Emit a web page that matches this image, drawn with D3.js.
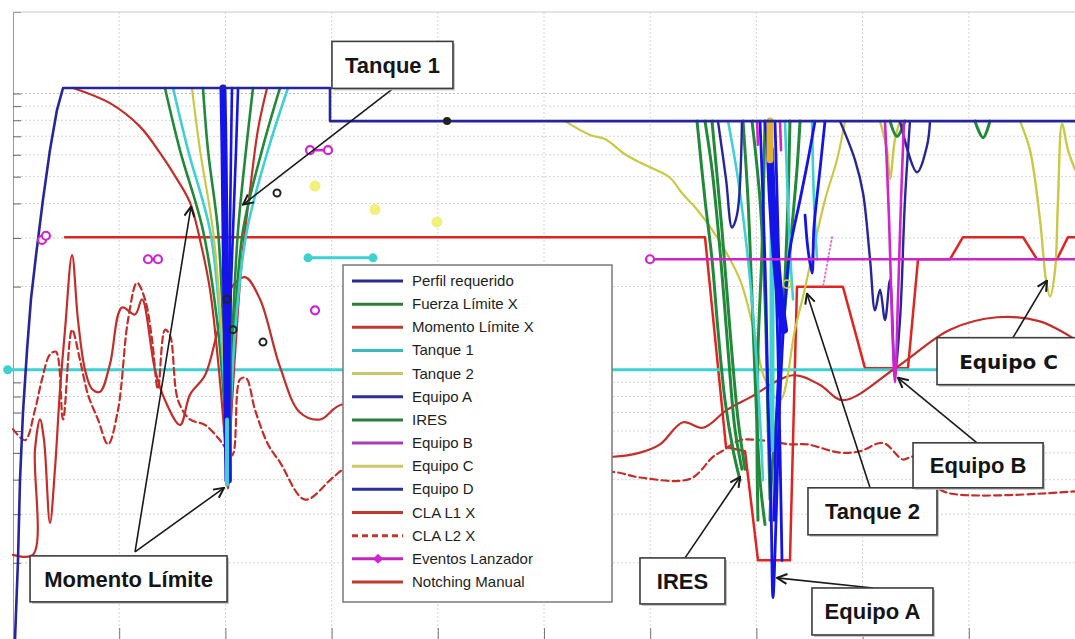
<!DOCTYPE html>
<html>
<head>
<meta charset="utf-8">
<script src="https://cdn.jsdelivr.net/npm/d3@7"></script>
<style>
body { margin: 0; background: #fff; }
svg { display: block; font-family: "Liberation Sans", Arial, sans-serif; }
</style>
</head>
<body>
<svg id="chart" width="1075" height="639"></svg>
<script>
// ---- DATA (x in Hz, y in dB) ----
const freqTicks = [10, 20, 30, 40, 50, 60, 70, 80, 90];
const decadeSteps = [1, 2, 3, 4, 5, 6, 7, 8, 9];
const decadeBases = [-20, 0, 20];

const perfilRequerido = [[0.1,-20],[0.19,-19.5],[0.47,-13.8],[0.66,-8.0],[0.94,-3.1],[1.32,1.4],[1.69,5.1],[2.17,8.3],[2.82,12.3],[3.48,15.9],[4.14,18.8],[4.71,20.4],[29.85,20.4],[29.85,18.0],[100,18.0]];

const fanLevels = [20.4, 15.9, 10.1, 3.6, -2.2, -8.0];

const momentoLimite = [[5.65,20.4],[9.13,19.3],[11.96,17.6],[13.84,15.7],[15.44,13.8],[16.67,12.1],[17.61,9.4],[18.55,5.8],[19.3,0.7],[19.87,-4.3],[20.24,-8.6],[20.53,-3.6],[21.0,2.2],[21.56,8.0],[22.32,13.0],[23.07,17.4],[23.92,20.4]];

const fuerzaFanX = [
  [14.31,15.72,17.89,19.21,19.87,20.24],
  [17.89,18.36,19.30,19.77,20.06,20.24],
  [22.60,21.94,21.19,20.72,20.43,20.24],
  [25.14,23.45,21.66,20.90,20.43,20.24]
];
const tanque1FanX = [
  [15.07,16.48,18.55,19.49,19.96,20.24],
  [25.89,24.01,22.03,21.00,20.53,20.24]
];
const equipoCFanX = [[16.85,17.61,18.83,19.58,20.06,20.24]];
const equipoAFanX = [
  [20.62,20.53,20.43,20.34,20.24,20.24],
  [21.19,21.00,20.72,20.43,20.34,20.24]
];
const equipoAFanCore = [19.77,19.87,19.96,20.06,20.15,20.24];
const fuerzaCore = [[20.34,6.5],[20.34,-8.0]];
const tanque1Core = [[20.15,-3.6],[20.15,-8.3]];

const tanque1Level = [[-0.5,0],[100,0]];
const tanque1Short = [[27.78,8.1],[33.9,8.1]];
const tanque1Dense = [
  [[67.33,18],[68.27,13.8],[69.21,8.0],[69.87,2.2],[70.34,-3.6],[70.62,-8.0]],
  [[75.24,18],[75.42,12.3],[75.71,8.0]],
  [[72.69,18],[73.16,8.7],[73.45,5.1]]
];
const tanque1DenseCore = [[71.47,12.3],[71.47,-5.8]];

const iresDense = [
  [[64.41,18.0],[65.16,12.3],[65.82,8.0],[66.38,2.9],[67.04,-2.2],[67.80,-5.8],[68.46,-8.0]],
  [[68.74,18.0],[69.21,12.3],[69.59,5.1],[69.96,-2.2],[70.34,-8.0],[70.81,-11.2]],
  [[65.16,18.0],[65.82,14.5],[66.57,8.7],[67.33,1.4],[67.98,-4.3],[68.64,-7.2]],
  [[65.82,18],[66.76,10.1],[67.51,2.9],[68.27,-3.6],[68.93,-7.2]],
  [[69.59,18],[70.34,12.3],[70.81,5.1],[71.09,-3.6],[71.28,-9.4]],
  [[73.16,18.0],[72.98,12.3],[72.60,5.1],[72.03,-2.2],[71.47,-7.2],[71.28,-10.9]],
  [[74.11,18.0],[73.82,14.5],[73.16,8.7],[72.50,2.9]],
  [[70.81,18],[70.53,8.7],[70.15,1.4],[70.06,-5.8],[70.15,-10.9]],
  [[82.58,18.0],[83.24,16.9],[83.99,18.0]],
  [[90.58,18.0],[91.34,16.8],[91.99,18.0]]
];

const equipoADense = [
  [[70.34,18.0],[70.62,12.3],[70.90,5.1],[71.09,-2.2],[71.37,-9.4],[71.56,-16.5],[71.85,-10.9],[72.13,-3.6],[72.60,3.6],[73.16,8.7],[74.11,12.3],[74.86,15.2],[75.52,18.0]],
  [[70.81,18],[71.28,13.8],[71.75,8.0],[72.03,1.4],[72.22,-5.8],[72.41,-13.8]],
  [[71.75,18],[72.03,10.1],[72.22,2.9],[71.85,-4.3],[71.66,-10.9]],
  [[76.46,18],[75.99,14.5],[75.42,10.3],[75.24,7.0],[74.86,8.7],[74.58,11.2]]
];
const equipoABlob = [[71.28,15.9],[71.47,12.3],[71.85,8.0],[72.22,5.1],[72.60,2.9]];

const equipoD = [
  [[66.38,18],[67.14,13.8],[67.70,10.3],[68.17,11.2],[68.64,18]],
  [[77.87,18],[79.28,15.2],[80.04,12.8],[80.70,8.0],[81.17,4.3],[81.64,5.8],[82.11,3.6],[82.58,6.5],[83.05,-0.1],[83.52,3.6],[83.99,12.3],[84.46,18.0]],
  [[83.52,18],[85.12,14.3],[86.06,16.2],[86.35,18]]
];

const equipoB = [
  [[82.11,18],[82.49,10.9],[82.77,3.6],[83.05,-0.9],[83.33,5.1],[83.62,12.3],[83.90,18]],
  [[70.06,18],[70.15,16.3]],
  [[72.22,18],[72.32,15.9]]
];
const equipoBDotted = [[77.12,9.6],[76.27,6.0]];

const tanque2 = [[51.98,18.0],[54.33,17.0],[55.74,16.7],[57.63,15.6],[59.04,15.0],[60.45,14.5],[61.86,13.9],[63.09,12.7],[64.41,11.6],[66.29,9.6],[68.46,6.5],[69.68,3.1],[70.81,-0.7],[72.22,-2.2],[73.63,2.9],[74.39,5.3],[76.46,12.3],[77.59,15.2],[78.34,18.0]];

const equipoC = [
  [[81.64,18],[82.30,15.9],[82.58,13.8],[83.05,16.7],[83.52,18]],
  [[94.82,18],[95.76,15.9],[96.70,10.9],[97.27,6.5],[97.65,5.3],[98.12,7.2],[98.40,12.3],[98.78,17.8],[99.34,15.9],[100,14.5]]
];
const equipoCBlob = [[71.28,18],[71.28,15.2]];
const equipoCPoints = [[28.44,13.3],[34.09,11.6],[39.92,10.7]];

const claL1 = [[0,-13.4],[1.88,-13.4],[2.07,-5.8],[2.54,-3.6],[2.92,-5.1],[3.48,-11.1],[3.95,-7.2],[4.43,-1.4],[4.9,2.9],[5.56,8.3],[6.12,3.6],[6.78,0],[7.44,-1.4],[8.19,-1.6],[9.13,0.4],[10.26,4.5],[11.49,4.0],[12.15,5.1],[13.37,0],[14.31,-2.2],[15.73,-4.0],[16.67,-1.8],[18.08,-0.4],[19.3,2.9],[20.43,5.8],[21.85,6.7],[23.26,5.1],[25.14,0.2],[27.02,-3.1],[28.91,-3.6],[31.07,-2.5],[40,-4.5],[50.09,-6.3],[53.39,-6.2],[56.5,-6.3],[59.04,-6.0],[60.92,-5.4],[63.09,-3.8],[64.97,-4.2],[67.23,-2.9],[69.4,-2.0],[73.45,-0.4],[75.99,-1.1],[78.15,-2.2],[83.24,0.2],[88.23,2.9],[92.66,3.8],[96.7,3.5],[100,2.2]];

const claL2 = [[0,-4.3],[1.13,-5.1],[2.07,-2.9],[2.73,-0.7],[3.48,1.1],[4.05,1.3],[4.71,-3.6],[5.56,2.9],[6.31,0.7],[7.06,-1.8],[8.0,-3.6],[8.95,-5.4],[9.89,-2.9],[10.83,3.6],[11.68,6.3],[12.43,5.1],[13.09,2.2],[13.65,-1.4],[14.31,2.9],[14.78,2.5],[15.54,-2.2],[16.67,-3.6],[18.08,-4.0],[19.49,-5.1],[20.62,-6.2],[21.37,-0.7],[21.94,-0.6],[22.79,-2.9],[24.01,-5.4],[25.14,-6.7],[27.5,-9.4],[30.13,-7.8],[31.26,-7.2],[40,-7.5],[50.09,-7.2],[53.39,-7.7],[56.5,-7.4],[59.04,-7.8],[63.75,-7.9],[65.91,-6.3],[66.76,-5.9],[68.46,-5.1],[70.34,-5.1],[73.16,-5.4],[74.76,-5.4],[77.87,-6.0],[79.76,-5.9],[81.92,-5.3],[83.8,-6.5],[84.75,-6.3],[86.35,-8.0],[87.95,-8.9],[100,-8.8]];

const notchingManual = [[4.9,9.6],[65.16,9.6],[67.14,-5.6],[68.93,-5.9],[70.15,-13.8],[73.16,-13.8],[73.82,6.0],[78.15,6.0],[80.23,0.1],[84.27,0.1],[85.22,8.0],[88.23,8.0],[89.45,9.6],[95.1,9.6],[96.42,8.0],[98.3,8.0],[99.34,9.6],[100,9.6]];

const eventosLanzador = [
  [[2.73,9.4],[3.1,9.7]],
  [[12.71,8.0],[13.65,8.0]],
  [[27.97,15.9],[29.66,15.9]],
  [[28.44,4.3]],
  [[59.98,8.0],[100,8.0]]
];

const blackFilled = [[40.87,18.0]];
const blackOpen = [[24.86,12.8],[23.54,2.0],[20.15,5.1],[20.72,2.9]];
const greenOpen = [[72.88,6.2]];

const legendLabels = ["Perfil requerido","Fuerza Límite X","Momento Límite X","Tanque 1","Tanque 2","Equipo A","IRES","Equipo B","Equipo C","Equipo D","CLA L1 X","CLA L2 X","Eventos Lanzador","Notching Manual"];
const legendColors = ["#2b2b8f","#2e7d3c","#c0392f","#3cb9bb","#c8c86a","#2f2f9c","#2e7d3c","#a640b8","#c8c86a","#2f2f9c","#c0392f","#c0392f","#c424c4","#c0392f"];

const annotations = [
  { label: "Tanque 1", cx: 35.73, cy: 22.07, w: 121, h: 47, from: [[35.78,20.36]], to: [[21.66,11.96]] },
  { label: "Momento Límite", cx: 10.88, cy: -15.14, w: 197, h: 46, from: [[11.49,-13.19],[11.49,-13.19]], to: [[16.76,11.81],[19.87,-8.55]] },
  { label: "IRES", cx: 63.04, cy: -15.29, w: 85, h: 46, from: [[63.28,-13.62]], to: [[68.46,-7.75]] },
  { label: "Tanque 2", cx: 80.93, cy: -10.25, w: 129, h: 47, from: [[80.70,-8.55]], to: [[74.76,5.51]] },
  { label: "Equipo B", cx: 90.87, cy: -6.92, w: 130, h: 45, from: [[90.77,-5.29]], to: [[83.33,-0.58]] },
  { label: "Equipo A", cx: 80.93, cy: -17.5, w: 121, h: 47, from: [[80.98,-15.8]], to: [[71.94,-15.07]] },
  { label: "Equipo C", cx: 93.74, cy: 0.62, w: 143, h: 47, from: [[94.16,2.32]], to: [[97.36,6.45]], font: "DejaVu Sans" }
];

// ---- COLOURS ----
const navy = "#26269a", blue = "#1414e8", green = "#22893a", red = "#c42e2a",
      notchRed = "#e02420", cyan = "#3fd0d2", yellow = "#c9c946", magenta = "#d024d0";

// ---- SCALES ----
const svg = d3.select('#chart');
const x = d3.scaleLinear().domain([0, 100]).range([13, 1075]);
const y = d3.scaleLinear().domain([-20, 25.9]).range([646, 12]);
const line = d3.line().x(d => x(d[0])).y(d => y(d[1]));
const smooth = d3.line().x(d => x(d[0])).y(d => y(d[1])).curve(d3.curveCatmullRom.alpha(0.5));

//GRID
const gridDb = decadeBases.flatMap(b => decadeSteps.map(k => b + 20 * Math.log10(k))).filter(v => v < 25.9);

const grid = svg.append('g');
grid.selectAll('.hg').data(gridDb).join('line')
  .attr('x1', x(0)).attr('x2', x(100))
  .attr('y1', d => y(d)).attr('y2', d => y(d))
  .attr('stroke', d => (Math.abs(d % 20) < 0.01) ? '#bcbcbc' : '#d4d4d4')
  .attr('stroke-width', 1)
  .attr('stroke-dasharray', '2,2');
grid.selectAll('.vg').data(freqTicks).join('line')
  .attr('x1', d => x(d)).attr('x2', d => x(d))
  .attr('y1', y(25.9)).attr('y2', y(-20))
  .attr('stroke', '#d4d4d4').attr('stroke-dasharray', '2,2');

// frame + ticks
svg.append('line').attr('x1', x(0)).attr('x2', x(100)).attr('y1', y(25.9)).attr('y2', y(25.9)).attr('stroke', '#c8c8c8');
svg.append('g').attr('transform', `translate(${x(0)},0)`)
  .call(d3.axisLeft(y).tickValues(gridDb.filter(v => v <= 20.01)).tickSize(-8).tickFormat(''))
  .call(g => g.select('.domain').attr('stroke', '#999'))
  .call(g => g.selectAll('.tick line').attr('stroke', '#666'));
svg.append('g').attr('transform', `translate(0,${y(-20)})`)
  .call(d3.axisBottom(x).tickValues(freqTicks).tickSize(-18).tickFormat(''))
  .call(g => g.select('.domain').remove())
  .call(g => g.selectAll('.tick line').attr('stroke', '#777'));

// clip
svg.append('clipPath').attr('id', 'plot').append('rect')
  .attr('x', 0).attr('y', y(25.9)).attr('width', 1075).attr('height', y(-20) - y(25.9));
const plot = svg.append('g').attr('clip-path', 'url(#plot)');

const drawSeries = (segments, color, width, dash, gen) => {
  plot.append('g').selectAll('path').data(segments).join('path')
    .attr('d', gen || line)
    .attr('fill', 'none')
    .attr('stroke', color)
    .attr('stroke-width', width)
    .attr('stroke-linejoin', 'round')
    .attr('stroke-linecap', 'round')
    .attr('stroke-dasharray', dash || null);
}
const fan = (xsList) => xsList.map(xs => xs.map((v, i) => [v, fanLevels[i]]));

//DRAW LINES
drawSeries([notchingManual], notchRed, 2.5);
drawSeries([tanque1Level], cyan, 3);
drawSeries([claL2], red, 2.2, '7,4', smooth);
drawSeries([claL1], red, 2.2, null, smooth);
drawSeries([momentoLimite], red, 2.2, null, smooth);
drawSeries(fan(fuerzaFanX), green, 2.6, null, smooth);
drawSeries(fan(tanque1FanX), cyan, 2.6, null, smooth);
drawSeries(fan(equipoCFanX), yellow, 2.2, null, smooth);
drawSeries([fuerzaCore], green, 6);
drawSeries([equipoAFanCore.map((v, i) => [v, fanLevels[i]])], blue, 7, null, smooth);
drawSeries(fan(equipoAFanX), blue, 2.6, null, smooth);
drawSeries([tanque1Core], cyan, 4);
drawSeries([tanque2], yellow, 2.2, null, smooth);
drawSeries(equipoC, yellow, 2.4, null, smooth);
drawSeries(iresDense, green, 3, null, smooth);
drawSeries(tanque1Dense, cyan, 2.6, null, smooth);
drawSeries([tanque1DenseCore], cyan, 5);
drawSeries(equipoD, navy, 2.4, null, smooth);
drawSeries(equipoADense, blue, 2.8, null, smooth);
drawSeries([equipoABlob], blue, 8, null, smooth);
drawSeries([equipoCBlob], '#e0b030', 7);
drawSeries(equipoB, magenta, 2.6, null, smooth);
drawSeries([equipoBDotted], '#e070d8', 2, '1,3');
drawSeries([perfilRequerido], navy, 2.6);
drawSeries([tanque1Short], cyan, 3);
drawSeries(eventosLanzador, magenta, 2.5);

//MARKERS
const markers = plot.append('g');
markers.selectAll('.ev').data(eventosLanzador.flat().filter(d => d[0] < 100)).join('circle')
  .attr('cx', d => x(d[0])).attr('cy', d => y(d[1])).attr('r', 4)
  .attr('fill', '#fff').attr('stroke', magenta).attr('stroke-width', 2.2);
markers.selectAll('.t1').data([tanque1Level[0], ...tanque1Short]).join('circle')
  .attr('cx', d => x(d[0])).attr('cy', d => y(d[1])).attr('r', 4.5)
  .attr('fill', cyan);
markers.selectAll('.ec').data(equipoCPoints).join('circle')
  .attr('cx', d => x(d[0])).attr('cy', d => y(d[1])).attr('r', 5.5)
  .attr('fill', '#f0f07a');
markers.selectAll('.bf').data(blackFilled).join('circle')
  .attr('cx', d => x(d[0])).attr('cy', d => y(d[1])).attr('r', 4)
  .attr('fill', '#222');
markers.selectAll('.bo').data(blackOpen).join('circle')
  .attr('cx', d => x(d[0])).attr('cy', d => y(d[1])).attr('r', 3.5)
  .attr('fill', 'none').attr('stroke', '#222').attr('stroke-width', 2);
markers.selectAll('.go').data(greenOpen).join('circle')
  .attr('cx', d => x(d[0])).attr('cy', d => y(d[1])).attr('r', 4)
  .attr('fill', 'none').attr('stroke', '#b8d040').attr('stroke-width', 1.8);

//LEGEND
const legend = svg.append('g').attr('transform', 'translate(343,265)');
legend.append('rect').attr('width', 269).attr('height', 337)
  .attr('fill', '#fff').attr('stroke', '#7a7a7a').attr('stroke-width', 1.5);
const rows = legend.selectAll('.row').data(legendLabels).join('g')
  .attr('transform', (d, i) => `translate(0,${16 + i * 23.15})`);
rows.append('line').attr('x1', 9).attr('x2', 60).attr('y1', 0).attr('y2', 0)
  .attr('stroke', (d, i) => legendColors[i]).attr('stroke-width', 3)
  .attr('stroke-dasharray', d => d === 'CLA L2 X' ? '6,4' : null);
rows.filter(d => d === 'Eventos Lanzador').append('path')
  .attr('d', 'M35,-5 L40,0 L35,5 L30,0 Z').attr('fill', magenta);
rows.append('text').attr('x', 69).attr('y', 5)
  .attr('font-size', 15).attr('fill', '#1e1e1e')
  .text(d => d);

//ANNOTATIONS
const defs = svg.append('defs');
defs.append('marker').attr('id', 'arrow')
  .attr('viewBox', '0 0 12 12').attr('refX', 11).attr('refY', 6)
  .attr('markerWidth', 12).attr('markerHeight', 12)
  .attr('markerUnits', 'userSpaceOnUse').attr('orient', 'auto')
  .append('path').attr('d', 'M1,1 L11,6 L1,11')
  .attr('fill', 'none').attr('stroke', '#1a1a1a').attr('stroke-width', 2);

const notes = svg.append('g');
annotations.forEach(a => {
  a.to.forEach((t, i) => {
    notes.append('line')
      .attr('x1', x(a.from[i][0])).attr('y1', y(a.from[i][1]))
      .attr('x2', x(t[0])).attr('y2', y(t[1]))
      .attr('stroke', '#1a1a1a').attr('stroke-width', 1.6)
      .attr('marker-end', 'url(#arrow)');
  });
});
annotations.forEach(a => {
  const g = notes.append('g').attr('transform', `translate(${x(a.cx)},${y(a.cy)})`);
  g.append('rect').attr('x', -a.w / 2 + 2).attr('y', -a.h / 2 + 2).attr('width', a.w).attr('height', a.h)
    .attr('fill', '#c4c4c4');
  g.append('rect').attr('x', -a.w / 2).attr('y', -a.h / 2).attr('width', a.w).attr('height', a.h)
    .attr('fill', '#fff').attr('stroke', '#3c3c3c').attr('stroke-width', 1.6);
  g.append('text').attr('text-anchor', 'middle').attr('y', 8)
    .attr('font-size', a.font ? 20 : 22).attr('font-weight', 'bold')
    .attr('font-family', a.font ? `"${a.font}", sans-serif` : null)
    .attr('fill', '#151515')
    .text(a.label);
});
</script>
</body>
</html>
